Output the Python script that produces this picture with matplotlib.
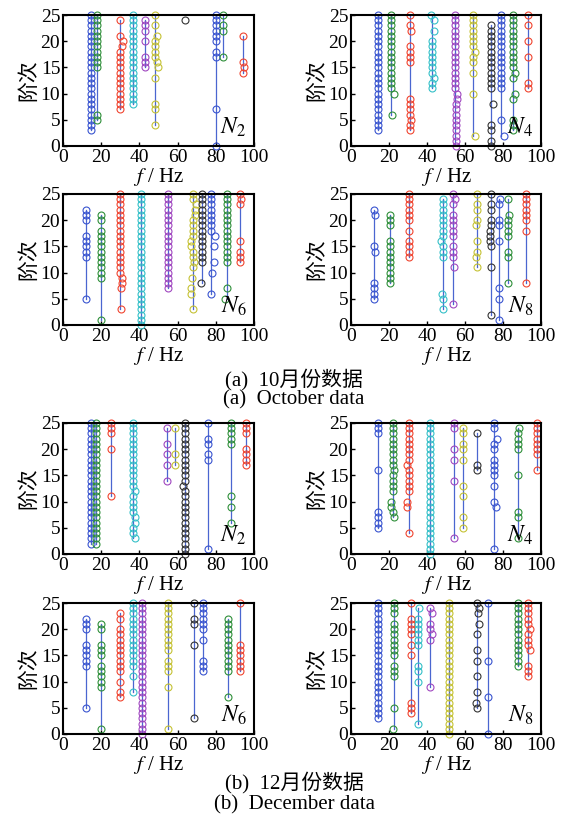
import matplotlib.pyplot as plt

plt.rcParams['font.family'] = ['Liberation Serif', 'Noto Sans CJK SC']
plt.rcParams['mathtext.fontset'] = 'stix'

colors = {'b': '#3a55d0', 'g': '#2f8f3a', 'r': '#f04530', 'c': '#35c0c8',
          'm': '#a048c0', 'y': '#c5c235', 'k': '#333333'}
line_color = '#4a66d0'

# each cluster: (centre freq, colour, orders, {order: shifted freq})
oct_n2 = [
    (14.5, 'b', [3, 4, 5, 6, 7, 8, 9, 10, 11, 12, 13, 14, 15, 16, 17, 18, 19, 20, 21, 22, 23, 24, 25], {}),
    (17.8, 'g', [5, 6, 15, 16, 17, 18, 19, 20, 21, 22, 23, 24, 25], {}),
    (30.0, 'r', [7, 8, 9, 10, 11, 12, 13, 14, 15, 16, 17, 18, 19, 20, 21, 24], {19: 31.0, 20: 31.2}),
    (36.6, 'c', [8, 9, 10, 11, 12, 13, 14, 15, 16, 17, 18, 19, 20, 21, 22, 23, 24, 25], {}),
    (42.8, 'm', [15, 16, 17, 20, 22, 23, 24], {}),
    (48.2, 'y', [4, 7, 8, 13, 15, 16, 17, 18, 19, 20, 21, 23, 25], {15: 49.5, 16: 49.3, 21: 49.0}),
    (64.0, 'k', [24], {}),
    (80.0, 'b', [0, 7, 17, 18, 20, 21, 22, 23, 24, 25], {}),
    (83.8, 'g', [17, 22, 23, 25], {}),
    (94.0, 'r', [14, 15, 16, 21], {15: 94.8}),
]
oct_n4 = [
    (14.2, 'b', [3, 4, 5, 6, 7, 8, 9, 10, 11, 12, 13, 14, 15, 16, 17, 18, 19, 20, 21, 22, 23, 24, 25], {}),
    (21.2, 'g', [6, 10, 11, 12, 13, 14, 15, 16, 17, 18, 19, 20, 21, 22, 23, 24, 25], {10: 22.7, 6: 21.5}),
    (31.2, 'r', [3, 4, 5, 6, 7, 8, 9, 16, 17, 18, 19, 22, 23, 25], {22: 31.8, 23: 30.8, 5: 31.8}),
    (42.5, 'c', [11, 12, 13, 14, 15, 16, 17, 18, 19, 20, 22, 24, 25], {22: 43.5, 13: 43.8, 24: 43.8, 25: 42.0}),
    (54.5, 'm', [0, 1, 2, 3, 4, 5, 6, 7, 8, 9, 10, 11, 12, 13, 14, 15, 16, 17, 18, 19, 20, 21, 22, 23, 24, 25],
     {0: 55.5, 1: 55.5, 2: 55.5, 3: 55.4, 4: 55.4, 5: 55.3, 6: 55.3, 7: 55.2, 8: 55.3, 9: 55.6, 10: 55.8}),
    (64.0, 'y', [2, 10, 14, 16, 17, 18, 19, 20, 21, 22, 23, 24, 25], {18: 65.5, 2: 65.5}),
    (73.5, 'k', [0, 1, 3, 4, 8, 11, 12, 13, 14, 15, 16, 17, 18, 19, 20, 21, 22, 23], {8: 74.5}),
    (78.8, 'b', [2, 5, 11, 12, 13, 14, 15, 16, 17, 18, 19, 20, 21, 22, 23, 24, 25], {2: 80.6}),
    (85.5, 'g', [3, 4, 5, 9, 10, 13, 14, 15, 16, 17, 18, 19, 20, 21, 22, 23, 24, 25], {14: 86.5, 10: 86.3}),
    (93.3, 'r', [11, 12, 17, 20, 23, 25], {}),
]
oct_n6 = [
    (11.9, 'b', [5, 13, 14, 15, 16, 17, 20, 21, 22], {}),
    (20.0, 'g', [1, 9, 10, 11, 12, 13, 14, 15, 16, 17, 18, 20, 21], {}),
    (29.7, 'r', [3, 7, 8, 9, 10, 11, 12, 13, 14, 15, 16, 17, 18, 19, 20, 21, 22, 23, 24, 25],
     {3: 30.5, 9: 31.0, 8: 30.8, 7: 30.5}),
    (41.0, 'c', [0, 1, 2, 3, 4, 5, 6, 7, 8, 9, 10, 11, 12, 13, 14, 15, 16, 17, 18, 19, 20, 21, 22, 23, 24, 25], {}),
    (55.0, 'm', [7, 8, 9, 10, 11, 12, 13, 14, 15, 16, 17, 18, 19, 20, 21, 22, 23, 24, 25], {}),
    (68.0, 'y', [3, 6, 7, 9, 11, 12, 13, 14, 15, 16, 17, 18, 19, 20, 21, 22, 23, 24, 25],
     {6: 67.0, 7: 67.0, 9: 67.3, 15: 67.0, 16: 67.0, 12: 68.5, 23: 69.5, 22: 69.2, 21: 69.0}),
    (72.8, 'k', [8, 12, 13, 14, 15, 16, 17, 18, 19, 20, 21, 22, 23, 24, 25], {8: 72.0}),
    (77.3, 'b', [6, 10, 12, 15, 17, 18, 19, 20, 21, 22, 23, 24, 25],
     {17: 79.5, 15: 78.8, 12: 79.0, 10: 78.0, 6: 77.5}),
    (86.0, 'g', [5, 7, 12, 13, 14, 15, 16, 17, 18, 19, 20, 21, 22, 23, 24, 25], {5: 85.0}),
    (92.5, 'r', [12, 13, 14, 16, 23, 24, 25], {24: 93.2}),
]
oct_n8 = [
    (11.9, 'b', [5, 6, 7, 8, 14, 15, 21, 22], {21: 12.8, 14: 12.8}),
    (20.7, 'g', [8, 9, 10, 11, 12, 13, 14, 15, 16, 19, 20, 21], {}),
    (30.3, 'r', [13, 14, 15, 16, 18, 20, 21, 22, 23, 24, 25], {}),
    (48.3, 'c', [3, 5, 6, 13, 14, 15, 16, 17, 18, 19, 20, 21, 22, 23, 24], {16: 47.5, 6: 47.8}),
    (53.6, 'm', [4, 11, 13, 14, 15, 17, 18, 19, 20, 21, 23, 24, 25], {11: 54.2, 24: 54.5}),
    (66.5, 'y', [11, 13, 14, 16, 19, 20, 22, 23, 25], {13: 65.8, 19: 66.0}),
    (73.9, 'k', [2, 11, 15, 16, 17, 18, 19, 20, 22, 23, 25], {17: 73.0, 16: 73.0, 18: 73.2}),
    (78.0, 'b', [1, 5, 7, 16, 19, 20, 23, 24], {24: 78.5}),
    (82.5, 'g', [8, 13, 14, 17, 18, 19, 20, 21, 24], {21: 83.2}),
    (92.0, 'r', [8, 18, 20, 21, 22, 23, 24, 25], {}),
]
dec_n2 = [
    (14.5, 'b', [2, 3, 4, 5, 6, 7, 8, 9, 10, 11, 12, 13, 14, 15, 16, 17, 18, 19, 20, 21, 22, 23, 24, 25], {}),
    (17.5, 'g', [2, 3, 4, 5, 6, 7, 8, 9, 10, 11, 12, 13, 14, 15, 16, 17, 18, 19, 20, 21, 22, 23, 24, 25], {}),
    (25.0, 'r', [11, 20, 23, 24, 25], {}),
    (36.6, 'c', [3, 4, 5, 6, 7, 8, 9, 10, 11, 12, 13, 14, 15, 16, 17, 18, 19, 20, 21, 22, 23, 24, 25],
     {3: 37.8, 12: 37.8, 6: 37.8, 7: 37.5}),
    (54.6, 'm', [14, 17, 19, 21, 24], {}),
    (58.8, 'y', [17, 19, 24], {}),
    (64.0, 'k', [0, 1, 2, 3, 4, 5, 6, 7, 8, 9, 10, 11, 12, 13, 14, 15, 16, 17, 18, 19, 20, 21, 22, 23, 24, 25],
     {13: 63.0}),
    (76.0, 'b', [1, 18, 19, 21, 22, 25], {}),
    (88.0, 'g', [6, 9, 11, 21, 22, 23, 24, 25], {}),
    (95.6, 'r', [17, 18, 19, 20, 23, 24, 25], {}),
]
dec_n4 = [
    (14.2, 'b', [5, 6, 7, 8, 16, 23, 24, 25], {}),
    (21.9, 'g', [7, 8, 9, 10, 12, 13, 14, 15, 16, 17, 18, 19, 20, 21, 22, 23, 24, 25],
     {7: 22.5, 16: 22.8, 10: 21.2, 9: 21.3}),
    (30.3, 'r', [4, 9, 10, 12, 13, 14, 15, 16, 17, 18, 19, 20, 21, 22, 23, 24, 25], {9: 29.7, 10: 29.7, 17: 29.7}),
    (41.7, 'c', [0, 1, 2, 3, 4, 5, 6, 7, 8, 9, 10, 11, 12, 13, 14, 15, 16, 17, 18, 19, 20, 21, 22, 23, 24, 25], {}),
    (54.3, 'm', [3, 14, 18, 20, 24, 25], {}),
    (59.2, 'y', [5, 7, 11, 13, 18, 20, 21, 23, 24], {}),
    (66.5, 'k', [16, 17, 23], {}),
    (75.5, 'b', [1, 9, 10, 13, 15, 16, 17, 18, 20, 21, 22, 24, 25], {22: 76.8, 9: 76.3}),
    (88.0, 'g', [3, 7, 8, 15, 20, 21, 22, 23, 24], {24: 88.5}),
    (97.7, 'r', [16, 19, 20, 21, 22, 23, 24, 25], {}),
]
dec_n6 = [
    (11.9, 'b', [5, 13, 14, 15, 16, 17, 20, 21, 22], {}),
    (20.0, 'g', [1, 9, 10, 11, 12, 13, 15, 16, 17, 20, 21], {}),
    (29.7, 'r', [7, 8, 10, 12, 13, 14, 15, 16, 17, 18, 19, 20, 22, 23], {}),
    (36.6, 'c', [8, 11, 13, 14, 15, 16, 17, 18, 19, 20, 21, 22, 23, 24, 25], {}),
    (41.5, 'm', [0, 1, 2, 3, 4, 5, 6, 7, 8, 9, 10, 11, 12, 13, 14, 15, 16, 17, 18, 19, 20, 21, 22, 23, 24, 25], {}),
    (55.0, 'y', [1, 9, 12, 13, 14, 16, 17, 18, 19, 20, 21, 22, 23, 24, 25], {}),
    (68.6, 'k', [3, 17, 21, 22, 25], {}),
    (73.3, 'b', [12, 13, 14, 18, 20, 21, 22, 23, 24, 25], {}),
    (86.4, 'g', [7, 12, 13, 14, 15, 16, 17, 18, 19, 20, 21, 22], {}),
    (92.8, 'r', [12, 13, 14, 15, 16, 17, 25], {}),
]
dec_n8 = [
    (14.2, 'b', [3, 4, 5, 6, 7, 8, 9, 10, 11, 12, 13, 14, 15, 16, 17, 18, 19, 20, 21, 22, 23, 24, 25], {}),
    (22.8, 'g', [1, 5, 11, 12, 13, 15, 16, 17, 18, 19, 20, 21, 23, 24, 25], {1: 22.0}),
    (31.7, 'r', [4, 5, 6, 15, 17, 19, 20, 21, 22, 25], {}),
    (35.2, 'c', [2, 10, 12, 13, 17, 18, 19, 20, 21, 22, 24], {24: 36.0}),
    (41.7, 'm', [9, 18, 19, 20, 21, 23, 24], {23: 42.8, 19: 42.5}),
    (51.8, 'y', [0, 1, 2, 3, 4, 5, 6, 7, 8, 9, 10, 11, 12, 13, 14, 15, 16, 17, 18, 19, 20, 21, 22, 23, 24, 25], {}),
    (66.5, 'k', [5, 6, 8, 11, 14, 16, 19, 21, 23, 24, 25], {24: 67.5, 23: 67.0, 21: 67.5, 6: 65.8}),
    (72.3, 'b', [0, 7, 14, 25], {}),
    (88.0, 'g', [13, 14, 15, 16, 17, 18, 19, 20, 21, 22, 23, 24, 25], {}),
    (93.3, 'r', [11, 12, 13, 16, 17, 18, 19, 20, 21, 22, 23, 24, 25], {16: 94.0, 20: 94.0}),
]

panels = [oct_n2, oct_n4, oct_n6, oct_n8, dec_n2, dec_n4, dec_n6, dec_n8]
panel_names = ['2', '4', '6', '8', '2', '4', '6', '8']

W, H = 565, 823
fig = plt.figure(figsize=(W / 100, H / 100), dpi=100)

lefts = [63, 351]
widths = [191, 190]
tops = [15, 194, 423, 603]
ax_h = 131

for i, data in enumerate(panels):
    row, col = i // 2, i % 2
    ax = fig.add_axes([lefts[col] / W, 1 - (tops[row] + ax_h) / H, widths[col] / W, ax_h / H])
    for f, c, orders, shift in data:
        ax.plot([f, f], [min(orders), max(orders)], color=line_color, lw=0.9, zorder=1)
        xs = [shift.get(o, f) for o in orders]
        ax.plot(xs, orders, 'o', mfc='none', mec=colors[c], ms=5, mew=0.8, zorder=2, clip_on=False)
    ax.set_xlim(0, 100)
    ax.set_ylim(0, 25)
    ax.set_xticks([0, 20, 40, 60, 80, 100])
    ax.set_yticks([0, 5, 10, 15, 20, 25])
    ax.tick_params(direction='in', length=3, width=1, labelsize=14, pad=2)
    for s in ax.spines.values():
        s.set_linewidth(1.5)
    ax.set_xlabel('$f$ / Hz', fontsize=15, labelpad=0)
    ax.set_ylabel('阶次', fontsize=15, family=['Noto Sans CJK SC'], labelpad=1)
    ax.text(0.96, 0.05, '$N_' + panel_names[i] + '$', transform=ax.transAxes,
            ha='right', va='bottom', fontsize=17)

cx = 294 / W
fig.text(cx, 1 - 380 / H, '(a)  10月份数据', ha='center', va='center', fontsize=15)
fig.text(cx, 1 - 400 / H, '(a)  October data', ha='center', va='center', fontsize=15)
fig.text(cx, 1 - 783 / H, '(b)  12月份数据', ha='center', va='center', fontsize=15)
fig.text(cx, 1 - 805 / H, '(b)  December data', ha='center', va='center', fontsize=15)

fig.savefig('out.png', dpi=100)
